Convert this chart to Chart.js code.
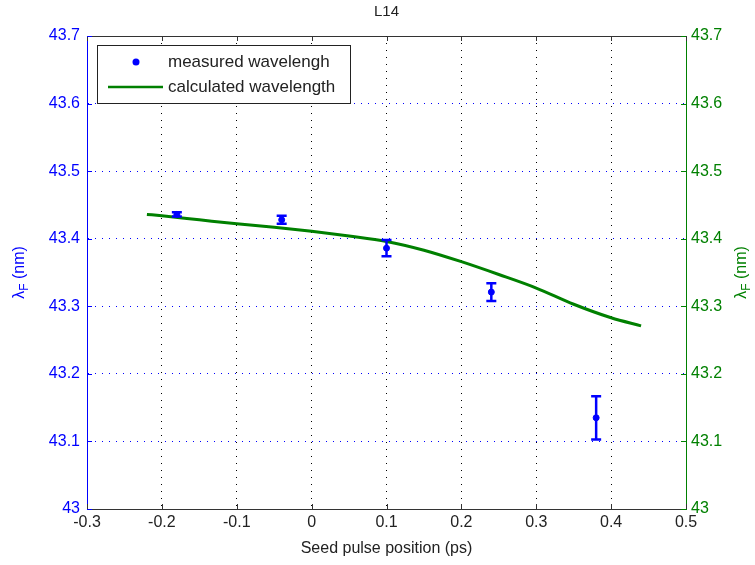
<!DOCTYPE html>
<html>
<head>
<meta charset="utf-8">
<script src="https://cdn.jsdelivr.net/npm/chart.js@4.4.0/dist/chart.umd.min.js"></script>
<style>
html,body{margin:0;padding:0;background:#fff;}
</style>
</head>
<body>
<canvas id="lambdaChart" width="755" height="565"></canvas>
<script>
// measured points: seed pulse position (ps), lambda_F (nm), half height of error bar
var measuredX = [-0.18, -0.04, 0.1, 0.24, 0.38];
var measuredY = [43.436, 43.428, 43.386, 43.321, 43.135];
var measuredErr = [0.003, 0.006, 0.012, 0.013, 0.032];

// calculated curve
var calcX = [-0.22, -0.2, -0.15, -0.1, -0.05, 0, 0.05, 0.1, 0.15, 0.2, 0.25, 0.3, 0.35, 0.4, 0.44];
var calcY = [43.436, 43.434, 43.428, 43.422, 43.417, 43.411, 43.404, 43.396, 43.383, 43.366, 43.347, 43.327, 43.303, 43.283, 43.271];

var xTickLabels = ['-0.3', '-0.2', '-0.1', '0', '0.1', '0.2', '0.3', '0.4', '0.5'];
var yTickLabels = ['43', '43.1', '43.2', '43.3', '43.4', '43.5', '43.6', '43.7'];

var FONT = '"Liberation Sans", Arial, Helvetica, sans-serif';
var BLUE = '#0000ff';
var GREEN = '#008000';
var TEXT = '#222222';

function edgeColor(c) {
    return function(ctx) {
        var s = ctx.scale;
        if (!ctx.tick) return c;
        if (Math.abs(ctx.tick.value - s.min) < 1e-9 || Math.abs(ctx.tick.value - s.max) < 1e-9) return 'rgba(0,0,0,0)';
        return c;
    };
}

// error bars on the measured points
var errorBars = {
    id: 'errorBars',
    afterDatasetsDraw: function(chart) {
        var ctx = chart.ctx, xs = chart.scales.x, ys = chart.scales.y;
        ctx.save();
        ctx.strokeStyle = BLUE;
        ctx.lineWidth = 2.5;
        for (var i = 0; i < measuredX.length; i++) {
            var px = xs.getPixelForValue(measuredX[i]);
            var top = ys.getPixelForValue(measuredY[i] + measuredErr[i]);
            var bot = ys.getPixelForValue(measuredY[i] - measuredErr[i]);
            ctx.beginPath();
            ctx.moveTo(px, top); ctx.lineTo(px, bot);
            ctx.moveTo(px - 5, top); ctx.lineTo(px + 5, top);
            ctx.moveTo(px - 5, bot); ctx.lineTo(px + 5, bot);
            ctx.stroke();
        }
        ctx.restore();
    }
};

// lambda_F label with a subscript, rotated
function drawLambda(ctx, cx, cy, color) {
    ctx.save();
    ctx.translate(cx, cy);
    ctx.rotate(-Math.PI / 2);
    ctx.fillStyle = color;
    ctx.textBaseline = 'middle';
    ctx.textAlign = 'left';
    var big = '16px ' + FONT, small = '12px ' + FONT;
    ctx.font = big;
    var w1 = ctx.measureText('\u03bb').width, w3 = ctx.measureText(' (nm)').width;
    ctx.font = small;
    var w2 = ctx.measureText('F').width;
    var x0 = -(w1 + w2 + w3) / 2;
    ctx.font = big; ctx.fillText('\u03bb', x0, 0);
    ctx.font = small; ctx.fillText('F', x0 + w1, 5);
    ctx.font = big; ctx.fillText(' (nm)', x0 + w1 + w2, 0);
    ctx.restore();
}

// box, inward ticks, title, y titles and legend
var frame = {
    id: 'frame',
    afterDraw: function(chart) {
        var ctx = chart.ctx, a = chart.chartArea;
        var xs = chart.scales.x, ys = chart.scales.y, ys2 = chart.scales.y2;
        ctx.save();
        ctx.lineWidth = 1;
        ctx.strokeStyle = '#333333';
        ctx.beginPath();
        ctx.moveTo(a.left, a.top + 0.5); ctx.lineTo(a.right, a.top + 0.5);
        xs.ticks.forEach(function(t) {
            var p = Math.round(xs.getPixelForValue(t.value)) + 0.5;
            ctx.moveTo(p, a.bottom); ctx.lineTo(p, a.bottom - 5);
            ctx.moveTo(p, a.top); ctx.lineTo(p, a.top + 5);
        });
        ctx.stroke();
        ctx.strokeStyle = BLUE;
        ctx.beginPath();
        ys.ticks.forEach(function(t) {
            var p = Math.round(ys.getPixelForValue(t.value)) + 0.5;
            ctx.moveTo(a.left, p); ctx.lineTo(a.left + 5, p);
        });
        ctx.stroke();
        ctx.strokeStyle = GREEN;
        ctx.beginPath();
        ys2.ticks.forEach(function(t) {
            var p = Math.round(ys2.getPixelForValue(t.value)) + 0.5;
            ctx.moveTo(a.right, p); ctx.lineTo(a.right - 5, p);
        });
        ctx.stroke();

        // title
        ctx.fillStyle = TEXT;
        ctx.font = '15px ' + FONT;
        ctx.textAlign = 'center';
        ctx.textBaseline = 'middle';
        ctx.fillText('L14', (a.left + a.right) / 2, 12);

        drawLambda(ctx, 20, (a.top + a.bottom) / 2, BLUE);
        drawLambda(ctx, 742, (a.top + a.bottom) / 2, GREEN);

        // legend
        var lx = a.left + 10, ly = a.top + 9, lw = 253, lh = 58;
        ctx.fillStyle = '#ffffff';
        ctx.fillRect(lx, ly, lw, lh);
        ctx.strokeStyle = '#222222';
        ctx.strokeRect(lx + 0.5, ly + 0.5, lw, lh);
        var ds = chart.data.datasets;
        ctx.fillStyle = BLUE;
        ctx.beginPath();
        ctx.arc(lx + 39, ly + 17, 3.5, 0, Math.PI * 2);
        ctx.fill();
        ctx.strokeStyle = GREEN;
        ctx.lineWidth = 2.5;
        ctx.beginPath();
        ctx.moveTo(lx + 11, ly + 42); ctx.lineTo(lx + 66, ly + 42);
        ctx.stroke();
        ctx.fillStyle = TEXT;
        ctx.font = '17px ' + FONT;
        ctx.textAlign = 'left';
        ctx.fillText(ds[0].label, lx + 71, ly + 17);
        ctx.fillText(ds[1].label, lx + 71, ly + 42);
        ctx.restore();
    }
};

var ctx = document.getElementById('lambdaChart').getContext('2d');

var lambdaChart = new Chart(ctx, {
    type: 'scatter',
    data: {
        datasets: [{
            label: 'measured wavelengh',
            data: measuredX.map(function(x, i) { return {x: x, y: measuredY[i]}; }),
            backgroundColor: BLUE,
            borderColor: BLUE,
            pointRadius: 3,
            pointStyle: 'circle',
            showLine: false,
            yAxisID: 'y'
        }, {
            label: 'calculated wavelength',
            data: calcX.map(function(x, i) { return {x: x, y: calcY[i]}; }),
            borderColor: GREEN,
            backgroundColor: GREEN,
            borderWidth: 3,
            pointRadius: 0,
            showLine: true,
            cubicInterpolationMode: 'monotone',
            yAxisID: 'y2'
        }]
    },
    options: {
        responsive: false,
        animation: false,
        layout: { padding: { top: 36, left: 0, right: 0, bottom: 0 } },
        plugins: {
            legend: { display: false },
            tooltip: { enabled: false },
            title: { display: false }
        },
        scales: {
            x: {
                type: 'linear',
                min: -0.3, max: 0.5,
                ticks: {
                    stepSize: 0.1,
                    color: TEXT,
                    padding: 4,
                    font: { family: FONT, size: 16 },
                    callback: function(v, i) { return xTickLabels[i]; }
                },
                grid: { color: edgeColor('#000000'), drawTicks: false, lineWidth: 1 },
                border: { color: '#333333', dash: [1, 6] },
                title: {
                    display: true,
                    text: 'Seed pulse position (ps)',
                    color: TEXT,
                    font: { family: FONT, size: 16 },
                    padding: { top: 0, bottom: 7 }
                },
                afterFit: function(s) { s.height = 56; }
            },
            y: {
                position: 'left',
                min: 43, max: 43.7,
                ticks: {
                    stepSize: 0.1,
                    color: BLUE,
                    padding: 7,
                    font: { family: FONT, size: 16 },
                    callback: function(v, i) { return yTickLabels[i]; }
                },
                grid: { color: edgeColor(BLUE), drawTicks: false, lineWidth: 1 },
                border: { color: BLUE, dash: [1, 6] },
                afterFit: function(s) { s.width = 87; }
            },
            y2: {
                position: 'right',
                min: 43, max: 43.7,
                ticks: {
                    stepSize: 0.1,
                    color: GREEN,
                    padding: 5,
                    font: { family: FONT, size: 16 },
                    callback: function(v, i) { return yTickLabels[i]; }
                },
                grid: { drawOnChartArea: false, drawTicks: false },
                border: { color: GREEN },
                afterFit: function(s) { s.width = 69; }
            }
        }
    },
    plugins: [errorBars, frame]
});
</script>
</body>
</html>
